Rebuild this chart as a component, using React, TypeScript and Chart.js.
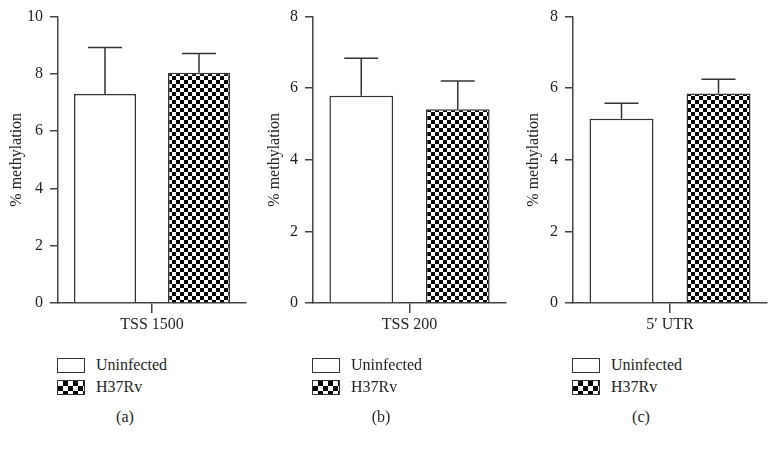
import React, { useEffect, useRef } from "react";
import { Chart, registerables } from "chart.js";

Chart.register(...registerables);

const regions = ["TSS 1500", "TSS 200", "5\u2032 UTR"];
const panelLetters = ["(a)", "(b)", "(c)"];
const seriesNames = ["Uninfected", "H37Rv"];
const uninfectedMeans = [7.3, 5.79, 5.15];
const uninfectedErrors = [1.62, 1.05, 0.43];
const h37rvMeans = [8.04, 5.41, 5.85];
const h37rvErrors = [0.67, 0.79, 0.4];
const yMaxes = [10, 8, 8];
const yStep = 2;

// layout (pixel geometry, absolute page coordinates)
const panelLayout = [
  { canvasLeft: 0, axisX: 58, axisRight: 246, titleX: 17, letterX: 125 },
  { canvasLeft: 255, axisX: 313, axisRight: 506, titleX: 275, letterX: 381 },
  { canvasLeft: 515, axisX: 573, axisRight: 767, titleX: 534, letterX: 641 },
];
const CANVAS_H = 340;
const AREA_TOP = 16;
const AREA_BOTTOM = 303;
const INK = "#231f20";
const AXIS = "#444";
const FONT = "'Liberation Serif', 'Times New Roman', serif";

function makePattern(): CanvasPattern | string {
  const c = document.createElement("canvas");
  c.width = 8;
  c.height = 8;
  const g = c.getContext("2d");
  if (!g) return "#000";
  g.fillStyle = "#fff";
  g.fillRect(0, 0, 8, 8);
  g.fillStyle = "#000";
  g.fillRect(0, 0, 4, 4);
  g.fillRect(4, 4, 4, 4);
  return g.createPattern(c, "repeat") || "#000";
}

const errorBarPlugin = {
  id: "errorBars",
  afterDatasetsDraw(chart: any) {
    const ctx = chart.ctx;
    const yScale = chart.scales.y;
    chart.data.datasets.forEach((ds: any, i: number) => {
      const meta = chart.getDatasetMeta(i);
      meta.data.forEach((el: any, j: number) => {
        const v = ds.data[j];
        const e = ds.errors[j];
        const yTop = yScale.getPixelForValue(v + e);
        const yBar = yScale.getPixelForValue(v);
        const half = 17;
        ctx.save();
        ctx.strokeStyle = "#333";
        ctx.lineWidth = 1.5;
        ctx.beginPath();
        ctx.moveTo(el.x, yBar);
        ctx.lineTo(el.x, yTop);
        ctx.moveTo(el.x - half, yTop);
        ctx.lineTo(el.x + half, yTop);
        ctx.stroke();
        ctx.restore();
      });
    });
  },
};

export default function App() {
  const refs = [useRef<HTMLCanvasElement>(null), useRef<HTMLCanvasElement>(null), useRef<HTMLCanvasElement>(null)];

  useEffect(() => {
    const charts: Chart[] = [];
    const pattern = makePattern();
    regions.forEach((region, i) => {
      const cv = refs[i].current;
      if (!cv) return;
      const L = panelLayout[i];
      const font = { family: FONT, size: 16 };
      const chart = new Chart(cv, {
        type: "bar",
        data: {
          labels: [region],
          datasets: [
            {
              label: seriesNames[0],
              data: [uninfectedMeans[i]],
              errors: [uninfectedErrors[i]],
              backgroundColor: "#ffffff",
              borderColor: "#333",
              borderWidth: 1.5,
            } as any,
            {
              label: seriesNames[1],
              data: [h37rvMeans[i]],
              errors: [h37rvErrors[i]],
              backgroundColor: pattern,
              borderColor: "#333",
              borderWidth: 1.5,
            } as any,
          ],
        },
        options: {
          responsive: false,
          animation: false,
          events: [],
          layout: {
            padding: { top: AREA_TOP, right: L.canvasLeft + 260 - L.axisRight > 0 ? 260 - (L.axisRight - L.canvasLeft) : 10, left: 0, bottom: 0 },
          },
          datasets: { bar: { categoryPercentage: 1, barPercentage: 0.66 } },
          plugins: { legend: { display: false }, tooltip: { enabled: false } },
          scales: {
            x: {
              type: "category",
              offset: true,
              grid: { offset: false, drawOnChartArea: false, tickLength: 10, color: AXIS, lineWidth: 1.5 },
              border: { display: true, color: AXIS, width: 1.5 },
              ticks: { font, color: INK, padding: 2 },
              afterFit(s: any) {
                s.height = CANVAS_H - AREA_BOTTOM;
              },
            },
            y: {
              min: 0,
              max: yMaxes[i],
              ticks: { stepSize: yStep, font, color: INK, padding: 7 },
              grid: { drawOnChartArea: false, tickLength: 8, color: AXIS, lineWidth: 1.5 },
              border: { display: true, color: AXIS, width: 1.5 },
              title: {
                display: true,
                text: "% methylation",
                font,
                color: INK,
                padding: { top: L.titleX - L.canvasLeft - 9.6, bottom: 0 },
              },
              afterFit(s: any) {
                s.width = L.axisX - L.canvasLeft;
              },
            },
          },
        } as any,
        plugins: [errorBarPlugin],
      });
      charts.push(chart);
    });
    return () => charts.forEach((c) => c.destroy());
  }, []);

  const boxBase: React.CSSProperties = {
    position: "absolute",
    width: 26,
    height: 13,
    border: "1.5px solid #333",
  };
  const textStyle: React.CSSProperties = {
    position: "absolute",
    fontFamily: FONT,
    fontSize: 16,
    color: INK,
    lineHeight: "20px",
    whiteSpace: "nowrap",
  };

  return (
    <div style={{ position: "fixed", left: 0, top: 0, width: 777, height: 449, background: "#fff", overflow: "hidden" }}>
      {panelLayout.map((L, i) => (
        <React.Fragment key={i}>
          <canvas
            ref={refs[i]}
            width={260}
            height={CANVAS_H}
            style={{ position: "absolute", left: L.canvasLeft, top: 0, width: 260, height: CANVAS_H }}
          />
          <div style={{ ...boxBase, left: L.axisX - 1, top: 357.5, background: "#fff" }} />
          <div
            style={{
              ...boxBase,
              left: L.axisX - 1,
              top: 379.5,
              background: "repeating-conic-gradient(#000 0 25%, #fff 0 50%) 0 0 / 10px 10px",
            }}
          />
          <div style={{ ...textStyle, left: L.axisX + 38, top: 355 }}>{seriesNames[0]}</div>
          <div style={{ ...textStyle, left: L.axisX + 38, top: 377 }}>{seriesNames[1]}</div>
          <div style={{ ...textStyle, left: L.letterX, top: 407, transform: "translateX(-50%)" }}>{panelLetters[i]}</div>
        </React.Fragment>
      ))}
    </div>
  );
}
